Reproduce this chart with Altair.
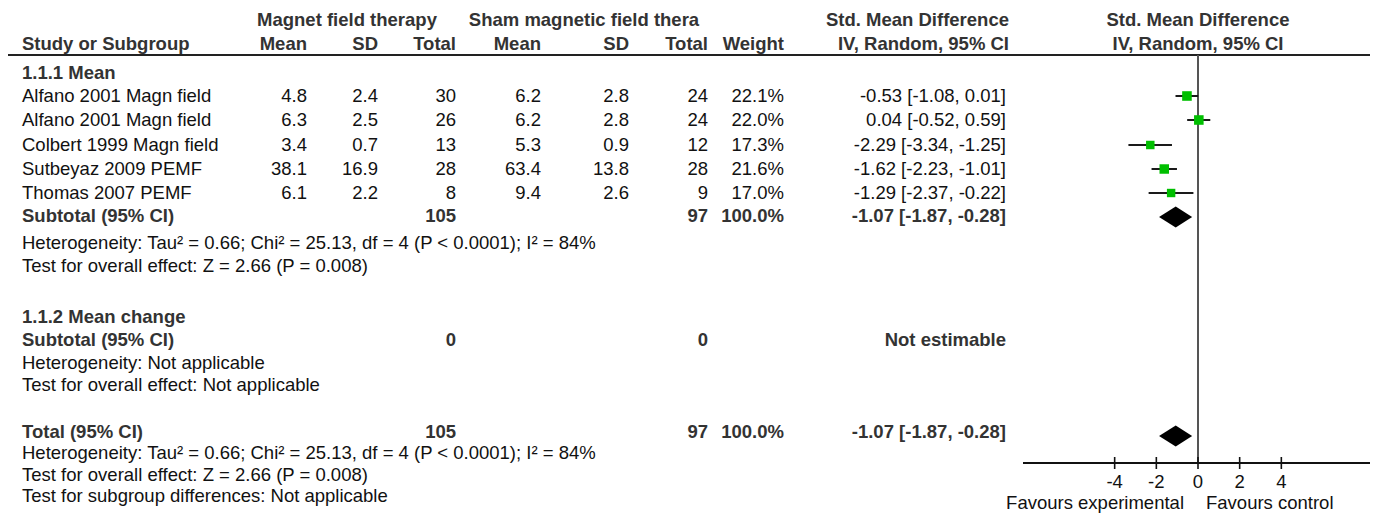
import altair as alt
import pandas as pd

# ---------------- data ----------------
studies = ["Alfano 2001 Magn field", "Alfano 2001 Magn field", "Colbert 1999 Magn field",
           "Sutbeyaz 2009 PEMF", "Thomas 2007 PEMF"]
exp_mean = [4.8, 6.3, 3.4, 38.1, 6.1]
exp_sd = [2.4, 2.5, 0.7, 16.9, 2.2]
exp_n = [30, 26, 13, 28, 8]
ctl_mean = [6.2, 6.2, 5.3, 63.4, 9.4]
ctl_sd = [2.8, 2.8, 0.9, 13.8, 2.6]
ctl_n = [24, 24, 12, 28, 9]
weights = [22.1, 22.0, 17.3, 21.6, 17.0]
smd = [-0.53, 0.04, -2.29, -1.62, -1.29]
ci_lo = [-1.08, -0.52, -3.34, -2.23, -2.37]
ci_hi = [0.01, 0.59, -1.25, -1.01, -0.22]
pooled = [-1.07, -1.87, -0.28]          # estimate, lower, upper
tau2, chi2, dfree, i2, zval, pval = 0.66, 25.13, 4, 84, 2.66, 0.008
tick_values = [-4, -2, 0, 2, 4]
axis_domain = [-8.4, 8.4]
group_exp = "Magnet field therapy"
group_ctl = "Sham magnetic field thera"

# ---------------- layout (page pixels) ----------------
OFF = 8
W, H = 1362, 508
FONT = "Liberation Sans"
FS = 18.5
BOLD_C = "#333333"
REG_C = "#111111"

def P(v):
    return v - OFF

Y = dict(h1=20, h2=44, hline=55, g1=73, study=[96, 120, 145, 169, 193], sub1=216,
         het1=243, test1=266, g2=317, sub2=340, het2=363, test2=385,
         tot=432, het3=453, test3=475, sgd=496, axis=463, ticklab=482, fav=503)
X = dict(name=22, em=307, es=378, en=456, cm=541, cs=629, cn=708, w=784, ci=1006, cih=1009,
         gexp=347, gctl=584, zero_px=1198, fav_l=1184, fav_r=1206)
AX_L, AX_R = 1023, 1373

cells = []

def add(text, x, y, align="left", bold=False):
    cells.append(dict(text=text, x=P(x), y=P(y), align=align, bold=bold))

# headers
add(group_exp, X["gexp"], Y["h1"], "center", True)
add(group_ctl, X["gctl"], Y["h1"], "center", True)
add("Std. Mean Difference", X["cih"], Y["h1"], "right", True)
add("Std. Mean Difference", X["zero_px"], Y["h1"], "center", True)
add("Study or Subgroup", X["name"], Y["h2"], "left", True)
for lab, key in [("Mean", "em"), ("SD", "es"), ("Total", "en"), ("Mean", "cm"),
                 ("SD", "cs"), ("Total", "cn"), ("Weight", "w")]:
    add(lab, X[key], Y["h2"], "right", True)
add("IV, Random, 95% CI", X["cih"], Y["h2"], "right", True)
add("IV, Random, 95% CI", X["zero_px"], Y["h2"], "center", True)

# subgroup 1
add("1.1.1 Mean", X["name"], Y["g1"], "left", True)
for i, s in enumerate(studies):
    y = Y["study"][i]
    add(s, X["name"], y)
    add(f"{exp_mean[i]}", X["em"], y, "right")
    add(f"{exp_sd[i]}", X["es"], y, "right")
    add(f"{exp_n[i]}", X["en"], y, "right")
    add(f"{ctl_mean[i]}", X["cm"], y, "right")
    add(f"{ctl_sd[i]}", X["cs"], y, "right")
    add(f"{ctl_n[i]}", X["cn"], y, "right")
    add(f"{weights[i]:.1f}%", X["w"], y, "right")
    add(f"{smd[i]:.2f} [{ci_lo[i]:.2f}, {ci_hi[i]:.2f}]", X["ci"], y, "right")

pooled_txt = f"{pooled[0]:.2f} [{pooled[1]:.2f}, {pooled[2]:.2f}]"
het_txt = f"Heterogeneity: Tau² = {tau2:.2f}; Chi² = {chi2:.2f}, df = {dfree} (P < 0.0001); I² = {i2}%"
test_txt = f"Test for overall effect: Z = {zval:.2f} (P = {pval})"

for key_row, label in [("sub1", "Subtotal (95% CI)"), ("tot", "Total (95% CI)")]:
    y = Y[key_row]
    add(label, X["name"], y, "left", True)
    add(f"{sum(exp_n)}", X["en"], y, "right", True)
    add(f"{sum(ctl_n)}", X["cn"], y, "right", True)
    add(f"{sum(weights):.1f}%", X["w"], y, "right", True)
    add(pooled_txt, X["ci"], y, "right", True)
add(het_txt, X["name"], Y["het1"])
add(test_txt, X["name"], Y["test1"])

# subgroup 2
add("1.1.2 Mean change", X["name"], Y["g2"], "left", True)
add("Subtotal (95% CI)", X["name"], Y["sub2"], "left", True)
add("0", X["en"], Y["sub2"], "right", True)
add("0", X["cn"], Y["sub2"], "right", True)
add("Not estimable", X["ci"], Y["sub2"], "right", True)
add("Heterogeneity: Not applicable", X["name"], Y["het2"])
add("Test for overall effect: Not applicable", X["name"], Y["test2"])

# totals
add(het_txt, X["name"], Y["het3"])
add(test_txt, X["name"], Y["test3"])
add("Test for subgroup differences: Not applicable", X["name"], Y["sgd"])

# favours labels
add("Favours experimental", X["fav_l"], Y["fav"], "right")
add("Favours control", X["fav_r"], Y["fav"], "left")

cells_df = pd.DataFrame(cells)

layers = []
for align in ["left", "right", "center"]:
    for bold in [False, True]:
        sub = cells_df[(cells_df["align"] == align) & (cells_df["bold"] == bold)]
        if len(sub) == 0:
            continue
        layers.append(
            alt.Chart(sub).mark_text(
                align=align, baseline="middle", font=FONT, fontSize=FS,
                fontWeight="bold" if bold else "normal",
                color=BOLD_C if bold else REG_C,
            ).encode(
                x=alt.X("x:Q", scale=None, axis=None),
                y=alt.Y("y:Q", scale=None, axis=None),
                text="text:N",
            )
        )

FX = alt.Scale(domain=axis_domain, range=[P(AX_L), P(AX_R)])

def fx(field):
    return alt.X(field, scale=FX, axis=None)

# header rule
hdr = pd.DataFrame({"y": [P(Y["hline"])]})
layers.append(alt.Chart(hdr).mark_rule(color="#222222", strokeWidth=2.2).encode(
    x=alt.value(0), x2=alt.value(W), y=alt.Y("y:Q", scale=None, axis=None)))

# zero line
zl = pd.DataFrame({"v": [0], "y": [P(Y["hline"])], "y2": [P(Y["axis"])]})
layers.append(alt.Chart(zl).mark_rule(color="#555555", strokeWidth=2).encode(
    x=fx("v:Q"), y=alt.Y("y:Q", scale=None, axis=None), y2="y2:Q"))

# studies: CI lines and squares
st = pd.DataFrame({"smd": smd, "lo": ci_lo, "hi": ci_hi, "w": weights,
                   "y": [P(v) for v in Y["study"]]})
layers.append(alt.Chart(st).mark_rule(color="#1a1a1a", strokeWidth=2).encode(
    x=fx("lo:Q"), x2="hi:Q", y=alt.Y("y:Q", scale=None, axis=None)))
layers.append(alt.Chart(st).mark_square(color="#00BF00", opacity=1).encode(
    x=fx("smd:Q"), y=alt.Y("y:Q", scale=None, axis=None),
    size=alt.Size("w:Q", scale=alt.Scale(domain=[0, 22.1], range=[0, 92]), legend=None)))

# diamonds
dh = 10.5
drows = []
for did, yc in [("sub", P(Y["sub1"]) + 1), ("tot", P(Y["tot"]) + 4)]:
    drows.append(dict(id=did, x=pooled[1], y=yc, y2=yc))
    drows.append(dict(id=did, x=pooled[0], y=yc - dh, y2=yc + dh))
    drows.append(dict(id=did, x=pooled[2], y=yc, y2=yc))
dd = pd.DataFrame(drows)
layers.append(alt.Chart(dd).mark_area(color="black", opacity=1).encode(
    x=fx("x:Q"), y=alt.Y("y:Q", scale=None, axis=None), y2="y2:Q", detail="id:N"))

# axis
axl = pd.DataFrame({"a": [axis_domain[0]], "b": [axis_domain[1]], "y": [P(Y["axis"])]})
layers.append(alt.Chart(axl).mark_rule(color="#111111", strokeWidth=2).encode(
    x=fx("a:Q"), x2="b:Q", y=alt.Y("y:Q", scale=None, axis=None)))
tk = pd.DataFrame({"v": tick_values, "lab": [str(t) for t in tick_values],
                   "y": [P(Y["axis"]) - 6] * len(tick_values),
                   "y2": [P(Y["axis"]) + 6] * len(tick_values),
                   "ly": [P(Y["ticklab"])] * len(tick_values)})
layers.append(alt.Chart(tk).mark_rule(color="#111111", strokeWidth=1.6).encode(
    x=fx("v:Q"), y=alt.Y("y:Q", scale=None, axis=None), y2="y2:Q"))
layers.append(alt.Chart(tk).mark_text(align="center", baseline="middle", font=FONT,
                                      fontSize=FS, color=REG_C).encode(
    x=fx("v:Q"), y=alt.Y("ly:Q", scale=None, axis=None), text="lab:N"))

chart = alt.layer(*layers).properties(
    width=W, height=H, padding=0, autosize=alt.AutoSizeParams(type="none"),
    background="white",
).configure_view(stroke=None)

chart.save("out.html", embed_options={"renderer": "svg", "actions": False})
